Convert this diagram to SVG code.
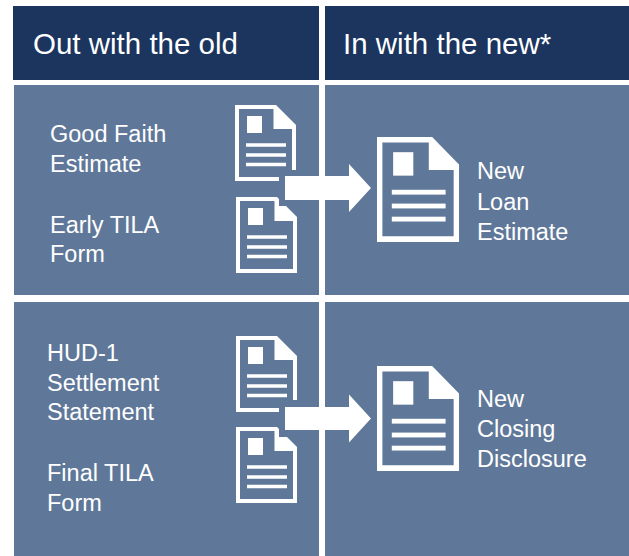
<svg xmlns="http://www.w3.org/2000/svg" xmlns:xlink="http://www.w3.org/1999/xlink" width="629" height="556" viewBox="0 0 629 556">
  <style>
    .hdr { fill: #1b355f; }
    .cell { fill: #5f7899; }
    .gap { fill: #5f7899; }
    .divider { fill: #ffffff; }
    .htxt { font-family: "Liberation Sans", Arial, sans-serif; font-size: 29.5px; fill: #ffffff; }
    .txt { font-family: "Liberation Sans", Arial, sans-serif; font-size: 23.5px; fill: #ffffff; }
    .arrow { fill: #ffffff; }
  </style>
  <defs>
    <g id="doc">
      <path fill="#ffffff" fill-rule="evenodd" d="M0,0 H41 L61,20 V76 H0 Z M4,4 H38.5 V24 H57 V72 H4 Z"/>
      <rect x="12" y="11" width="15" height="17" fill="#ffffff"/>
      <rect x="11" y="38.25" width="40" height="3.5" fill="#ffffff"/>
      <rect x="11" y="48.25" width="40" height="3.5" fill="#ffffff"/>
      <rect x="11" y="57.75" width="40" height="3.5" fill="#ffffff"/>
    </g>
  </defs>
  <rect x="0" y="0" width="629" height="556" fill="#ffffff"/>

  <g id="header-old">
    <rect class="hdr" x="13" y="6" width="306" height="74"/>
    <text class="htxt" x="33" y="53.5">Out with the old</text>
  </g>
  <g id="header-new">
    <rect class="hdr" x="325" y="6" width="304" height="74"/>
    <text class="htxt" x="343" y="53.5">In with the new*</text>
  </g>

  <g id="cell-old-1">
    <rect class="cell" x="14" y="85" width="305" height="210"/>
    <text class="txt" x="50" y="142">Good Faith</text>
    <text class="txt" x="50" y="172">Estimate</text>
    <text class="txt" x="50" y="233">Early TILA</text>
    <text class="txt" x="50" y="262">Form</text>
    <use xlink:href="#doc" transform="translate(235,105)"/>
    <use xlink:href="#doc" transform="translate(236,197)"/>
  </g>
  <g id="cell-new-1">
    <rect class="cell" x="325" y="85" width="304" height="210"/>
    <use xlink:href="#doc" transform="translate(377,137) scale(1.345,1.38)"/>
    <text class="txt" x="477" y="179">New</text>
    <text class="txt" x="477" y="210">Loan</text>
    <text class="txt" x="477" y="240">Estimate</text>
  </g>

  <g id="cell-old-2">
    <rect class="cell" x="14" y="302" width="305" height="254"/>
    <text class="txt" x="47" y="361">HUD-1</text>
    <text class="txt" x="47" y="391">Settlement</text>
    <text class="txt" x="47" y="420">Statement</text>
    <text class="txt" x="47" y="481">Final TILA</text>
    <text class="txt" x="47" y="511">Form</text>
    <use xlink:href="#doc" transform="translate(236,336)"/>
    <use xlink:href="#doc" transform="translate(236,427)"/>
  </g>
  <g id="cell-new-2">
    <rect class="cell" x="325" y="302" width="304" height="254"/>
    <use xlink:href="#doc" transform="translate(377,366) scale(1.345,1.38)"/>
    <text class="txt" x="477" y="407">New</text>
    <text class="txt" x="477" y="437">Closing</text>
    <text class="txt" x="477" y="467">Disclosure</text>
  </g>

  <g id="connectors">
    <rect class="gap" x="279" y="170" width="40" height="36"/>
    <rect class="divider" x="319" y="165" width="6" height="50"/>
    <polygon class="arrow" points="285,176 349,176 349,164 371,188 349,212 349,200 285,200"/>
    <rect class="gap" x="279" y="400" width="40" height="37"/>
    <rect class="divider" x="319" y="395" width="6" height="50"/>
    <polygon class="arrow" points="285,407 349,407 349,394.5 371,418.5 349,442.5 349,430 285,430"/>
  </g>
</svg>
